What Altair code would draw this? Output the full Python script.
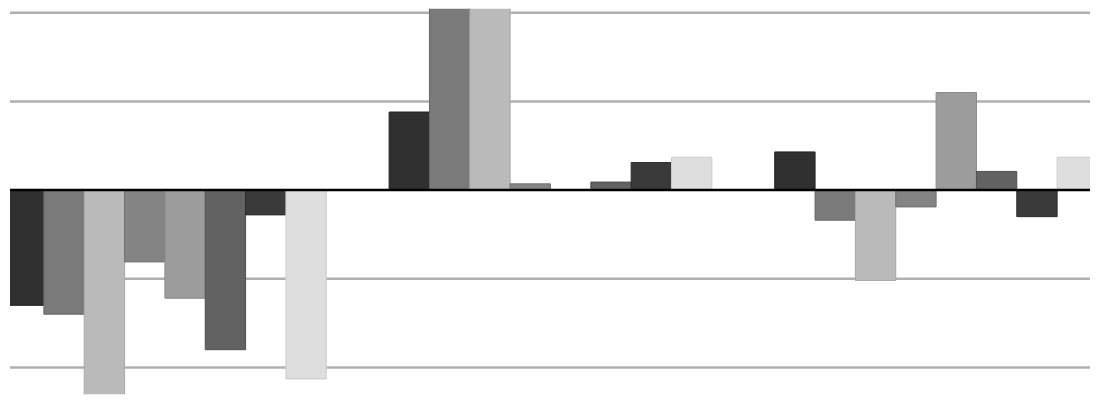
import altair as alt
import pandas as pd

groups = ["A", "B", "C"]
series = ["S1", "S2", "S3", "S4", "S5", "S6", "S7", "S8"]

vals_a = [-13.0, -14.0, -26.0, -8.1, -12.2, -18.0, -2.8, -21.3]
vals_b = [8.8, 24.0, 23.5, 0.7, 0.0, 0.9, 3.1, 3.7]
vals_c = [4.3, -3.4, -10.2, -1.9, 11.0, 2.1, -3.0, 3.7]

colors = ["#303030", "#7a7a7a", "#bababa", "#848484", "#9c9c9c", "#626262", "#3a3a3a", "#dedede"]
edges = ["#222222", "#666666", "#a8a8a8", "#707070", "#8a8a8a", "#505050", "#2a2a2a", "#cccccc"]
grid_vals = [-20, -10, 10, 20]

rows = []
for g, vals in zip(groups, [vals_a, vals_b, vals_c]):
    for s, v in zip(series, vals):
        rows.append({"group": g, "series": s, "value": v})
df = pd.DataFrame(rows)

ydom = [-23.03, 20.45]
yscale = alt.Scale(domain=ydom, nice=False, zero=False)

grid = alt.Chart(pd.DataFrame({"v": grid_vals})).mark_rule(
    color="#b0b0b0", strokeWidth=2.5
).encode(y=alt.Y("v:Q", scale=yscale, axis=None))

bars = alt.Chart(df).mark_bar(clip=True, strokeWidth=1).encode(
    x=alt.X("group:N", sort=groups, axis=None,
            scale=alt.Scale(range=[-6.5, 1091.5], paddingInner=0.163, paddingOuter=0)),
    xOffset=alt.XOffset("series:N", sort=series,
                        scale=alt.Scale(paddingInner=0, paddingOuter=0)),
    y=alt.Y("value:Q", scale=yscale, axis=None),
    color=alt.Color("series:N", sort=series, legend=None,
                    scale=alt.Scale(domain=series, range=colors)),
    stroke=alt.Stroke("series:N", sort=series, legend=None,
                      scale=alt.Scale(domain=series, range=edges)),
)

zero = alt.Chart(pd.DataFrame({"v": [0]})).mark_rule(
    color="#000000", strokeWidth=2.5
).encode(y=alt.Y("v:Q", scale=yscale, axis=None))

chart = alt.layer(grid, bars, zero).properties(
    width=1084, height=387, padding=0
).configure_view(strokeWidth=0)

chart.save("out.html", embed_options={"renderer": "svg", "actions": False})
